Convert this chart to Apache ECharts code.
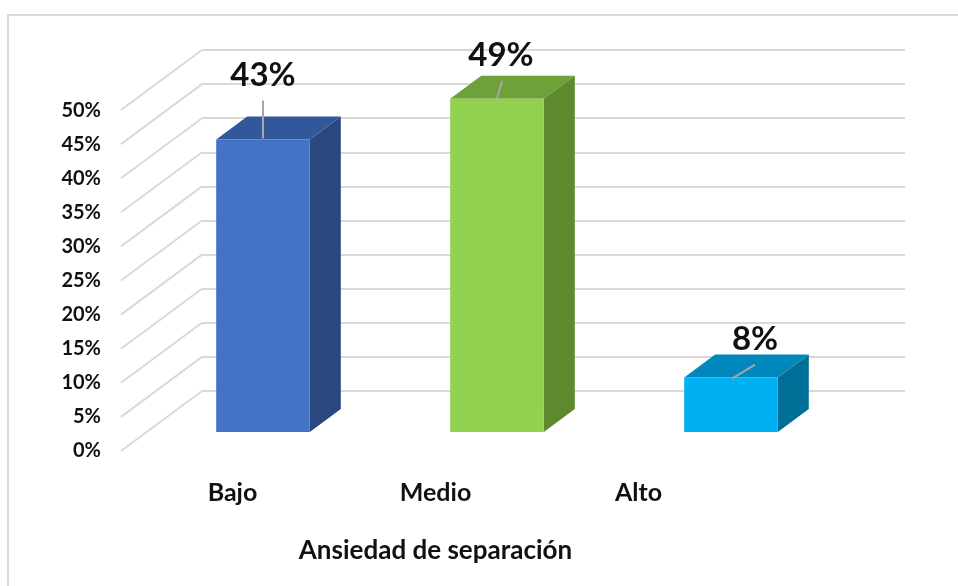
<!DOCTYPE html>
<html>
<head>
<meta charset="utf-8">
<script src="https://cdn.jsdelivr.net/npm/echarts@6/dist/echarts.min.js"></script>
<style>
  html, body { margin: 0; padding: 0; background: #fff; }
  #main { width: 958px; height: 586px; }
</style>
</head>
<body>
<div id="main"></div>
<script>
// datos
const categories = ["Bajo", "Medio", "Alto"];
const values = [43, 49, 8];
const yMin = 0;
const yMax = 50;
const yStep = 5;
const axisTitle = "Ansiedad de separación";

// estilos
const frontColors = ["#4472C4", "#92D050", "#00B0F0"];
const topColors = ["#32579A", "#6FA13B", "#0088BC"];
const sideColors = ["#2A4880", "#5D8A2F", "#006F98"];
// desplazamiento de la etiqueta y su línea guía respecto a la cara frontal
const labelShift = [[0, -64], [4, -43], [24, -38]];
const leaderFrom = [[0, -39], [5, -18], [24, -13]];
const leaderTo = [[0, -1], [0, 0], [1, 1]];

const depth = [31, -23];       // profundidad de las barras
const wallDepth = [81, -60];   // del plano frontal a la pared del fondo
const gridColor = "#D9D9D9";
const textColor = "#111111";
const font = "Lato";

const myChart = echarts.init(document.getElementById("main"));

const ticks = [];
for (let v = yMin; v <= yMax; v += yStep) ticks.push(v);

const option = {
  animation: false,
  graphic: [{
    type: "rect",
    shape: { x: 8, y: 15, width: 960, height: 600 },
    style: { fill: "none", stroke: gridColor, lineWidth: 2 },
    z: 0
  }],
  grid: [
    // plano frontal (etiquetas del eje y)
    { left: 121, right: 53, top: 111, bottom: 135 },
    // pared del fondo
    { left: 202, right: 53, top: 50, bottom: 195 },
    // cara frontal de las barras
    { left: 146, right: 110, top: 92, bottom: 154 },
    // etiquetas de categorías
    { left: 131, right: 218, top: 111, bottom: 135 }
  ],
  xAxis: [
    { gridIndex: 0, type: "value", min: 0, max: 1, show: false },
    { gridIndex: 1, type: "value", min: 0, max: 1, show: false },
    { gridIndex: 2, type: "category", data: categories, show: false },
    {
      gridIndex: 3,
      type: "category",
      data: categories,
      axisLine: { show: false },
      axisTick: { show: false },
      axisLabel: {
        margin: 29,
        fontFamily: font,
        fontSize: 25,
        fontWeight: "bold",
        color: textColor
      },
      name: axisTitle,
      nameLocation: "middle",
      nameGap: 87,
      nameTextStyle: {
        fontFamily: font,
        fontSize: 26,
        fontWeight: "bold",
        color: textColor
      }
    }
  ],
  yAxis: [
    {
      gridIndex: 0,
      type: "value",
      min: yMin,
      max: yMax,
      interval: yStep,
      axisLine: { show: false },
      axisTick: { show: false },
      splitLine: { show: false },
      axisLabel: {
        margin: 20,
        formatter: "{value}%",
        fontFamily: font,
        fontSize: 20,
        fontWeight: "bold",
        color: textColor
      }
    },
    {
      gridIndex: 1,
      type: "value",
      min: yMin,
      max: yMax,
      interval: yStep,
      axisLine: { show: false },
      axisTick: { show: false },
      axisLabel: { show: false },
      splitLine: { show: true, lineStyle: { color: gridColor, width: 2 } }
    },
    { gridIndex: 2, type: "value", min: yMin, max: yMax, interval: yStep, show: false },
    { gridIndex: 3, type: "value", min: yMin, max: yMax, show: false }
  ],
  series: [
    {
      // líneas diagonales del suelo / pared lateral
      type: "custom",
      xAxisIndex: 1,
      yAxisIndex: 1,
      z: 1,
      silent: true,
      data: ticks.map((t) => [0, t]),
      renderItem: function (params, api) {
        const back = api.coord([0, api.value(1)]);
        return {
          type: "line",
          shape: {
            x1: back[0] - wallDepth[0], y1: back[1] - wallDepth[1],
            x2: back[0], y2: back[1]
          },
          style: { stroke: gridColor, lineWidth: 2 }
        };
      }
    },
    {
      type: "custom",
      xAxisIndex: 2,
      yAxisIndex: 2,
      z: 5,
      data: values.map((v, i) => [i, v]),
      encode: { x: 0, y: 1 },
      renderItem: function (params, api) {
        const i = api.value(0);
        const v = api.value(1);
        const base = api.coord([i, 0]);
        const top = api.coord([i, v]);
        const w = api.size([1, 0])[0] * 0.4;
        const x0 = base[0] - w / 2;
        const x1 = base[0] + w / 2;
        const yb = base[1];
        const yt = top[1];
        const dx = depth[0], dy = depth[1];
        const cx = base[0];
        return {
          type: "group",
          children: [
            {
              type: "polygon",
              shape: { points: [[x1, yt], [x1 + dx, yt + dy], [x1 + dx, yb + dy], [x1, yb]] },
              style: { fill: sideColors[i] }
            },
            {
              type: "polygon",
              shape: { points: [[x0, yt], [x1, yt], [x1 + dx, yt + dy], [x0 + dx, yt + dy]] },
              style: { fill: topColors[i] }
            },
            {
              type: "rect",
              shape: { x: x0, y: yt, width: w, height: yb - yt },
              style: { fill: frontColors[i] }
            },
            {
              type: "line",
              shape: {
                x1: cx + leaderFrom[i][0], y1: yt + leaderFrom[i][1],
                x2: cx + leaderTo[i][0], y2: yt + leaderTo[i][1]
              },
              style: { stroke: "#A6A6A6", lineWidth: 2 }
            },
            {
              type: "text",
              x: cx + labelShift[i][0],
              y: yt + labelShift[i][1],
              style: {
                text: v + "%",
                fontFamily: font,
                fontSize: 33,
                fontWeight: "bold",
                fill: textColor,
                align: "center",
                verticalAlign: "middle"
              }
            }
          ]
        };
      }
    }
  ]
};

option && myChart.setOption(option);

window.addEventListener("resize", () => {
  myChart.resize();
});
</script>
</body>
</html>
